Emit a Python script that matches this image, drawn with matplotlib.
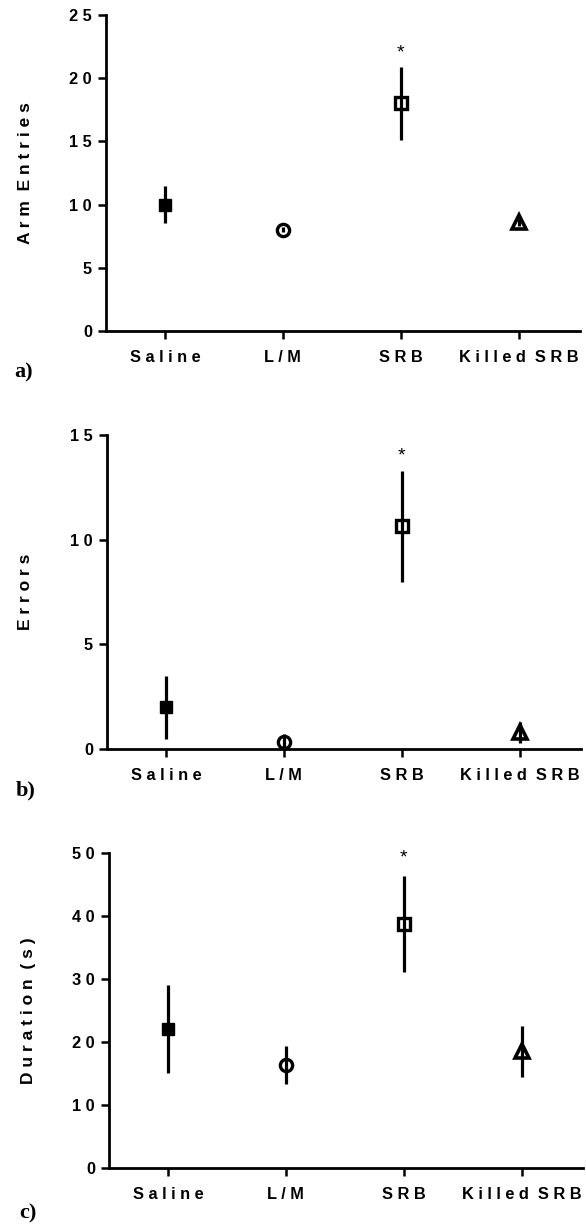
import matplotlib
matplotlib.use("Agg")
import matplotlib.pyplot as plt

plt.rcParams['font.family'] = ['Liberation Sans', 'DejaVu Sans']

# ---- data ----
categories = ["Saline", "L/M", "SRB", "Killed SRB"]
markers = ["s", "o", "s", "^"]
filled = [True, False, False, False]

arm_mean = [10.0, 8.0, 18.0, 8.6]
arm_err = [1.45, 0.2, 2.85, 0.3]

err_mean = [2.0, 0.35, 10.65, 0.8]
err_err = [1.5, 0.35, 2.65, 0.5]

dur_mean = [22.1, 16.4, 38.7, 18.5]
dur_err = [7.0, 3.0, 7.6, 4.1]

star_y = [22.0, 14.0, 49.2]  # significance marks above SRB

ylabels = ["Arm Entries", "Errors", "Duration (s)"]
yticks = [[0, 5, 10, 15, 20, 25], [0, 5, 10, 15], [0, 10, 20, 30, 40, 50]]
ylims = [(0, 25), (0, 15), (0, 50)]
panel_letters = ["a)", "b)", "c)"]


def spaced(s):
    return " ".join(s).replace("   ", "  ")


W, H = 586, 1226
fig = plt.figure(figsize=(W / 100, H / 100), dpi=100)

# pixel boxes: left, right, top, bottom
boxes = [(106, 580, 15, 331), (107, 581, 435, 749), (109, 583, 853, 1168)]
letter_pos = [(14, 372), (16, 790), (19, 1213)]
label_x = [26, 26, 28]

means = [arm_mean, err_mean, dur_mean]
errs = [arm_err, err_err, dur_err]

for i in range(3):
    l, r, t, b = boxes[i]
    ax = fig.add_axes([l / W, 1 - b / H, (r - l) / W, (b - t) / H])
    xs = list(range(len(categories)))
    for j, x in enumerate(xs):
        if markers[j] == "^":
            ms, mew = 10.5, 2.6
        elif filled[j]:
            ms, mew = 9.0, 1.0
        else:
            ms, mew = 8.8, 2.4
        ax.errorbar([x], [means[i][j]], yerr=[errs[i][j]], fmt=markers[j],
                    ms=ms, mfc="black" if filled[j] else "none",
                    mec="black", mew=mew,
                    ecolor="black", elinewidth=2.3, capsize=0,
                    clip_on=False, zorder=3)
    ax.text(2, star_y[i], "*", ha="center", va="center", fontsize=14,
            color="black")
    ax.set_xlim(-0.5, 3.52)
    ax.set_ylim(*ylims[i])
    ax.set_xticks(xs)
    ax.set_xticklabels([spaced(c) for c in categories], fontweight="bold")
    ax.set_yticks(yticks[i])
    ax.set_yticklabels([spaced(str(v)) for v in yticks[i]], fontweight="bold")
    for sp in ["top", "right"]:
        ax.spines[sp].set_visible(False)
    for sp in ["left", "bottom"]:
        ax.spines[sp].set_linewidth(2.0)
    ax.tick_params(axis="both", direction="out", length=6, width=1.8,
                   labelsize=11.8, colors="black")
    ax.tick_params(axis="y", pad=4)
    ax.tick_params(axis="x", pad=8)
    fig.text(label_x[i] / W, 1 - (t + b) / 2 / H, spaced(ylabels[i]),
             rotation=90, ha="center", va="center", fontsize=12.5,
             fontweight="bold")
    fig.text(letter_pos[i][0] / W, 1 - letter_pos[i][1] / H, panel_letters[i],
             ha="left", va="center", fontsize=16, fontweight="bold",
             family="Liberation Serif")

fig.savefig("out.png", dpi=100)
